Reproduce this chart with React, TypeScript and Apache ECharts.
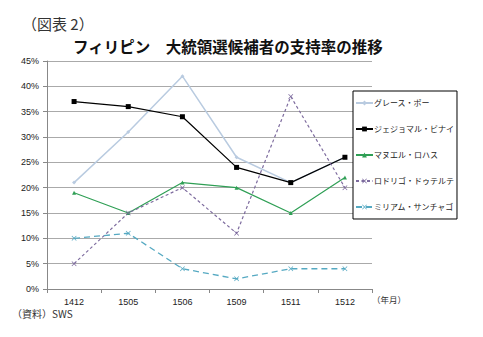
import React, { useEffect, useRef } from "react";
import * as echarts from "echarts";

const categories = ["1412", "1505", "1506", "1509", "1511", "1512"];
const seriesNames = ["グレース・ポー", "ジェジョマル・ビナイ", "マヌエル・ロハス", "ロドリゴ・ドゥテルテ", "ミリアム・サンチャゴ"];
const poe = [21, 31, 42, 26, 21, 26];
const binay = [37, 36, 34, 24, 21, 26];
const roxas = [19, 15, 21, 20, 15, 22];
const duterte = [5, 15, 20, 11, 38, 20];
const santiago = [10, 11, 4, 2, 4, 4];

const CROSS = "path://M0,1L1,0L5,4L9,0L10,1L6,5L10,9L9,10L5,6L1,10L0,9L4,5Z";
const JP = '"Noto Sans CJK JP", "Liberation Sans", sans-serif';
const AX = '"Liberation Sans", Arial, sans-serif';

export default function App() {
  const ref = useRef<HTMLDivElement>(null);
  useEffect(() => {
    if (!ref.current) return;
    const chart = echarts.init(ref.current, null, { renderer: "svg" });
    const mk = (name: string, data: number[], color: string, symbol: string, size: number, type: any, width: number) => ({
      name,
      type: "line",
      data,
      symbol,
      symbolSize: size,
      showSymbol: true,
      lineStyle: { color, width, type },
      itemStyle: { color, borderWidth: 0 },
      emphasis: { disabled: true },
    });
    chart.setOption({
      animation: false,
      backgroundColor: "#ffffff",
      graphic: [
        { type: "text", left: 22, top: 16, style: { text: "（図表 2）", font: `15px "Noto Sans CJK JP", serif`, fill: "#333" } },
        { type: "text", left: 73, top: 38, style: { text: "フィリピン　大統領選候補者の支持率の推移", font: `bold 15.5px ${JP}`, fill: "#111" } },
        { type: "text", left: 372, top: 295, style: { text: "（年月）", font: `8.5px ${JP}`, fill: "#333" } },
        { type: "text", left: 12, top: 308, style: { text: "（資料）SWS", font: `10px ${JP}`, fill: "#333" } },
      ],
      grid: { left: 47, right: 111, top: 61, bottom: 48 },
      legend: {
        orient: "vertical",
        left: 353,
        top: 91,
        padding: [8, 3, 8, 2],
        itemGap: 18,
        itemWidth: 17,
        itemHeight: 6,
        backgroundColor: "#ffffff",
        borderColor: "#000",
        borderWidth: 1,
        borderRadius: 0,
        textStyle: { fontSize: 8, fontFamily: JP, color: "#222", padding: [0, 0, 0, -4] },
        data: seriesNames,
      },
      xAxis: {
        type: "category",
        data: categories,
        boundaryGap: true,
        axisLine: { lineStyle: { color: "#888", width: 1 } },
        axisTick: { show: true, alignWithLabel: false, length: 4, lineStyle: { color: "#888" } },
        axisLabel: { fontSize: 9, fontFamily: AX, color: "#222", margin: 8 },
      },
      yAxis: {
        type: "value",
        min: 0,
        max: 45,
        interval: 5,
        axisLine: { show: true, lineStyle: { color: "#888", width: 1 } },
        axisTick: { show: true, length: 4, lineStyle: { color: "#888" } },
        axisLabel: { formatter: "{value}%", fontSize: 9, fontFamily: AX, color: "#222", margin: 8 },
        splitLine: { lineStyle: { color: "#aaaaaa", width: 1 } },
      },
      series: [
        mk(seriesNames[0], poe, "#b9cbe0", "diamond", 4, "solid", 1.5),
        mk(seriesNames[1], binay, "#000000", "rect", 5, "solid", 1.2),
        mk(seriesNames[2], roxas, "#2f9f55", "triangle", 4, "solid", 1.2),
        mk(seriesNames[3], duterte, "#7d6b9e", CROSS, 5, [3, 2.5], 1.2),
        mk(seriesNames[4], santiago, "#55a9c2", CROSS, 5, [6, 4], 1.3),
      ],
    });
    return () => chart.dispose();
  }, []);
  return <div ref={ref} style={{ position: "fixed", left: 0, top: 0, width: 483, height: 337 }} />;
}
